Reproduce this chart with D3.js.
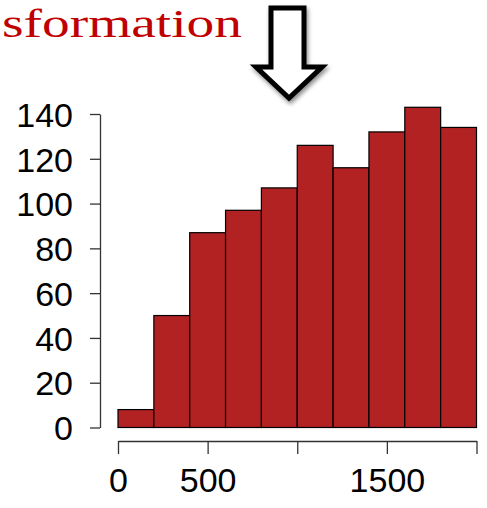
<!DOCTYPE html>
<html>
<head>
<meta charset="utf-8">
<script src="https://cdn.jsdelivr.net/npm/d3@7"></script>
<style>
  html, body { margin: 0; padding: 0; background: #fff; }
  svg { display: block; }
</style>
</head>
<body>
<script>
// Histogram bins (width 200) and their counts
const binEdges = [0, 200, 400, 600, 800, 1000, 1200, 1400, 1600, 1800, 2000];
const counts = [8, 50, 87, 97, 107, 126, 116, 132, 143, 134];
const yTicks = [0, 20, 40, 60, 80, 100, 120, 140];
const xTicks = [0, 500, 1000, 1500, 2000];
const xTickLabels = ["0", "500", "", "1500", ""];
const headline = "sformation";

const W = 487, H = 508;
const svg = d3.select("body").append("svg").attr("width", W).attr("height", H);

const x = d3.scaleLinear().domain([0, 2000]).range([118, 476.5]);
const y = d3.scaleLinear().domain([0, 140]).range([427.5, 114]);

const bins = counts.map((c, i) => ({ x0: binEdges[i], x1: binEdges[i + 1], count: c }));

// Bars
svg.append("g").selectAll("rect").data(bins).join("rect")
  .attr("x", d => x(d.x0))
  .attr("y", d => y(d.count))
  .attr("width", d => x(d.x1) - x(d.x0))
  .attr("height", d => y(0) - y(d.count))
  .attr("fill", "#B22222")
  .attr("stroke", "#000")
  .attr("stroke-width", 1.2);

const fontAxis = "'Liberation Sans', Arial, sans-serif";

// Y axis
const yAxis = svg.append("g").attr("transform", "translate(100,0)")
  .call(d3.axisLeft(y).tickValues(yTicks).tickSize(10).tickSizeOuter(0).tickPadding(17));
// X axis
const xAxis = svg.append("g").attr("transform", "translate(0,441)")
  .call(d3.axisBottom(x).tickValues(xTicks).tickSize(13).tickSizeOuter(0)
    .tickFormat((d, i) => xTickLabels[i]).tickPadding(14));

[yAxis, xAxis].forEach(g => {
  g.selectAll("path.domain").attr("stroke", "#333").attr("stroke-width", 1.3);
  g.selectAll(".tick line").attr("stroke", "#333").attr("stroke-width", 1.3);
  g.selectAll(".tick text").attr("font-family", fontAxis).attr("font-size", 34).attr("fill", "#000");
});
yAxis.selectAll(".tick text").attr("dy", "0.36em");

// Headline text
svg.append("text")
  .attr("x", 2).attr("y", 37)
  .attr("font-family", "'Liberation Serif', 'Times New Roman', serif")
  .attr("font-size", 41)
  .attr("fill", "#C00000")
  .attr("textLength", 240)
  .attr("lengthAdjust", "spacingAndGlyphs")
  .text(headline);

// Hollow down arrow with soft shadow
const defs = svg.append("defs");
const f = defs.append("filter").attr("id", "shadow").attr("x", "-30%").attr("y", "-30%").attr("width", "160%").attr("height", "160%");
f.append("feDropShadow").attr("dx", 1.5).attr("dy", 3).attr("stdDeviation", 2).attr("flood-color", "#000").attr("flood-opacity", 0.45);

const arrowPts = [[271, 8], [304, 8], [304, 67], [322, 67], [289, 98], [256, 67], [271, 67]];
svg.append("path")
  .attr("d", d3.line()(arrowPts) + "Z")
  .attr("fill", "#fff")
  .attr("stroke", "#000")
  .attr("stroke-width", 5)
  .attr("stroke-linejoin", "miter")
  .attr("filter", "url(#shadow)");
</script>
</body>
</html>
